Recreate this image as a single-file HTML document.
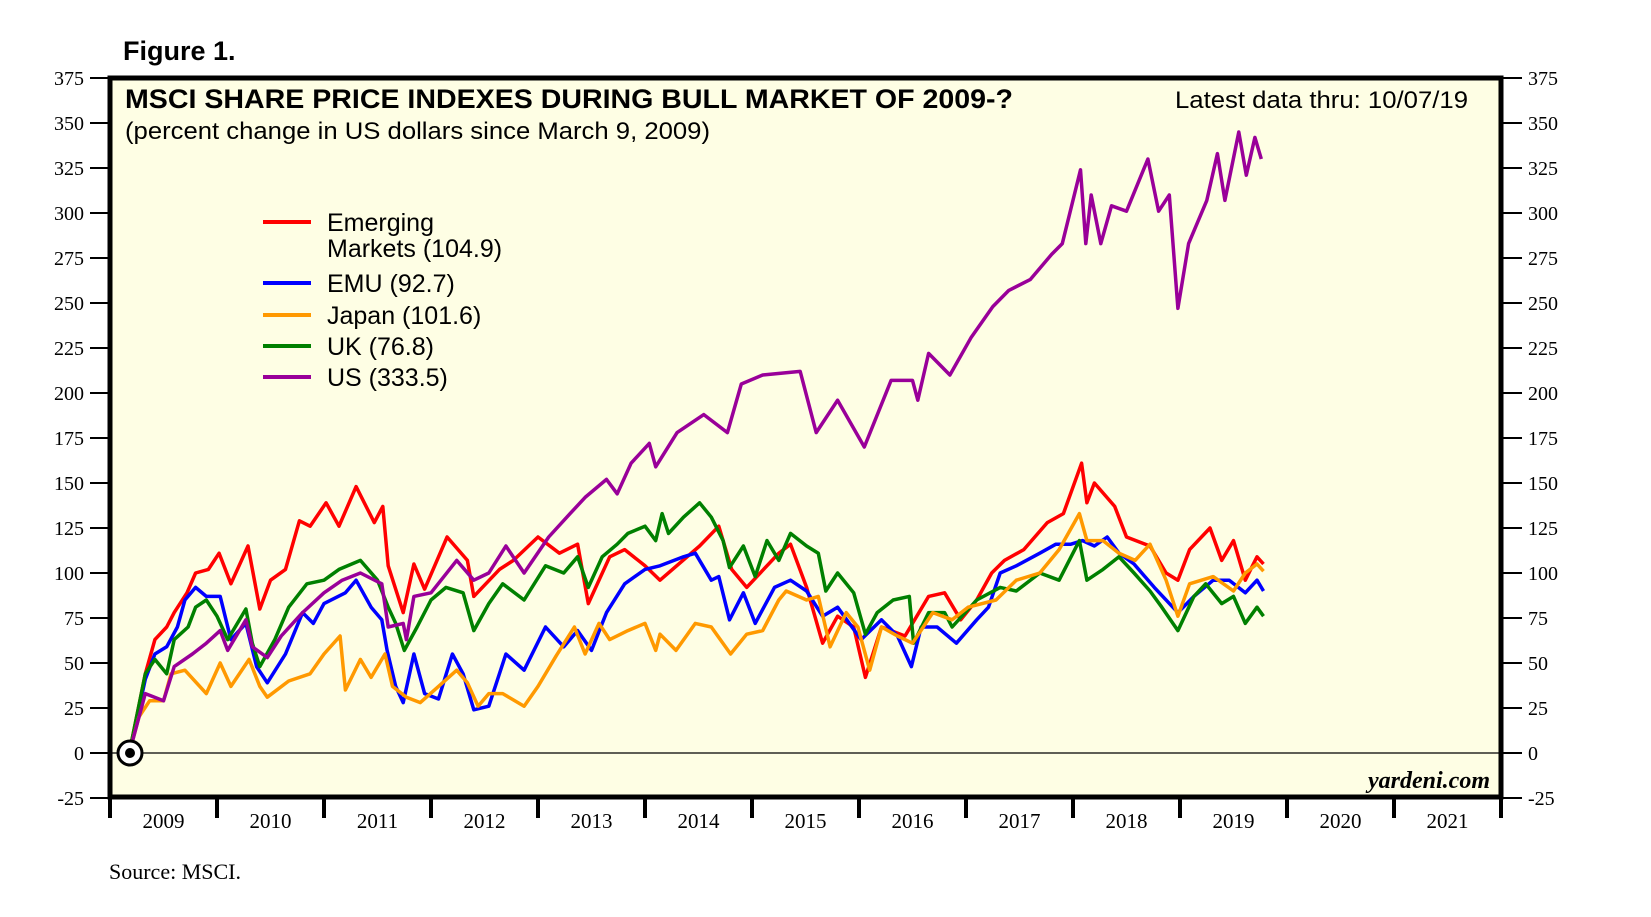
<!DOCTYPE html>
<html><head><meta charset="utf-8"><style>
body{margin:0;background:#fff;}
svg{display:block;}
</style></head><body>
<svg id="chart" width="1651" height="917" viewBox="0 0 1651 917" xmlns="http://www.w3.org/2000/svg">
<text x="123" y="60" font-family="Liberation Sans, sans-serif" font-weight="bold" font-size="27">Figure 1.</text>
<rect x="110" y="78" width="1391" height="719" fill="#fefee4"/>
<g id="axes"></g>
<g id="series"></g>
<rect x="110" y="78" width="1391" height="719" fill="none" stroke="#000" stroke-width="5"/>
<text x="125" y="108" font-family="Liberation Sans, sans-serif" font-weight="bold" font-size="27" textLength="888" lengthAdjust="spacingAndGlyphs">MSCI SHARE PRICE INDEXES DURING BULL MARKET OF 2009-?</text>
<text x="125" y="139" font-family="Liberation Sans, sans-serif" font-size="24" textLength="585" lengthAdjust="spacingAndGlyphs">(percent change in US dollars since March 9, 2009)</text>
<text x="1468" y="108" text-anchor="end" font-family="Liberation Sans, sans-serif" font-size="24" textLength="293" lengthAdjust="spacingAndGlyphs">Latest data thru: 10/07/19</text>
<text x="1490" y="788" text-anchor="end" font-family="Liberation Serif, serif" font-style="italic" font-weight="bold" font-size="24">yardeni.com</text>
<text x="109" y="879" font-family="Liberation Serif, serif" font-size="22">Source: MSCI.</text>
<g id="legend" font-family="Liberation Sans, sans-serif" font-size="25">
 <g><line x1="263" y1="222" x2="311" y2="222" stroke="#ff0000" stroke-width="4"/><text x="327" y="231">Emerging</text><text x="327" y="257">Markets (104.9)</text></g>
 <g><line x1="263" y1="283" x2="311" y2="283" stroke="#0000ff" stroke-width="4"/><text x="327" y="292">EMU (92.7)</text></g>
 <g><line x1="263" y1="315" x2="311" y2="315" stroke="#ff9900" stroke-width="4"/><text x="327" y="324">Japan (101.6)</text></g>
 <g><line x1="263" y1="346" x2="311" y2="346" stroke="#008000" stroke-width="4"/><text x="327" y="355">UK (76.8)</text></g>
 <g><line x1="263" y1="377" x2="311" y2="377" stroke="#990099" stroke-width="4"/><text x="327" y="386">US (333.5)</text></g>
</g>
<g><circle cx="130" cy="753" r="12" fill="#fff" stroke="#000" stroke-width="3"/><circle cx="130" cy="753" r="5" fill="#000"/></g>
</svg>
<script>
const yTicks = [-25,0,25,50,75,100,125,150,175,200,225,250,275,300,325,350,375];
const years = [2009,2010,2011,2012,2013,2014,2015,2016,2017,2018,2019,2020,2021];

const emDates = [2009.18,2009.33,2009.42,2009.53,2009.6,2009.72,2009.8,2009.92,2010.02,2010.13,2010.29,2010.4,2010.5,2010.64,2010.77,2010.87,2011.02,2011.14,2011.3,2011.47,2011.55,2011.6,2011.74,2011.84,2011.94,2012.15,2012.34,2012.4,2012.64,2012.77,2013.0,2013.2,2013.37,2013.47,2013.67,2013.81,2014.0,2014.14,2014.51,2014.69,2014.81,2014.95,2015.25,2015.36,2015.51,2015.66,2015.8,2015.95,2016.06,2016.21,2016.43,2016.65,2016.8,2016.95,2017.1,2017.24,2017.36,2017.54,2017.76,2017.91,2018.08,2018.13,2018.2,2018.39,2018.5,2018.72,2018.87,2018.98,2019.09,2019.28,2019.39,2019.5,2019.61,2019.72,2019.78];
const emVals = [0,44,63,70,78,89,100,102,111,94,115,80,96,102,129,126,139,126,148,128,137,104,78,105,91,120,107,87,102,107,120,111,116,83,109,113,104,96,115,126,102,92,111,116,92,61,76,70,42,70,65,87,89,74,85,100,107,113,128,133,161,139,150,137,120,115,100,96,113,125,107,118,96,109,105];

const emuDates = [2009.18,2009.33,2009.42,2009.53,2009.63,2009.7,2009.8,2009.9,2010.03,2010.13,2010.27,2010.37,2010.47,2010.64,2010.8,2010.9,2011.0,2011.2,2011.3,2011.44,2011.54,2011.59,2011.67,2011.74,2011.84,2011.94,2012.07,2012.2,2012.3,2012.4,2012.54,2012.7,2012.87,2013.07,2013.24,2013.37,2013.5,2013.64,2013.81,2014.0,2014.14,2014.36,2014.47,2014.62,2014.69,2014.79,2014.92,2015.03,2015.21,2015.36,2015.51,2015.66,2015.8,2016.02,2016.21,2016.36,2016.49,2016.58,2016.73,2016.91,2017.1,2017.21,2017.32,2017.47,2017.69,2017.84,2017.98,2018.09,2018.2,2018.32,2018.43,2018.57,2018.76,2018.98,2019.13,2019.31,2019.46,2019.61,2019.72,2019.78];
const emuVals = [0,41,55,59,70,85,92,87,87,63,72,48,39,55,78,72,83,89,96,81,74,57,37,28,55,33,30,55,44,24,26,55,46,70,59,68,57,78,94,102,104,109,111,96,98,74,89,72,92,96,90,76,81,63,74,65,48,70,70,61,74,81,100,104,111,116,116,118,115,120,111,105,92,78,87,96,96,89,96,90];

const ukDates = [2009.18,2009.33,2009.42,2009.53,2009.6,2009.73,2009.8,2009.9,2010.0,2010.1,2010.27,2010.33,2010.4,2010.54,2010.67,2010.84,2011.0,2011.14,2011.34,2011.5,2011.6,2011.67,2011.75,2011.87,2012.0,2012.14,2012.3,2012.4,2012.54,2012.67,2012.87,2013.07,2013.24,2013.37,2013.47,2013.6,2013.74,2013.84,2014.0,2014.1,2014.16,2014.22,2014.36,2014.51,2014.62,2014.73,2014.79,2014.92,2015.03,2015.14,2015.25,2015.36,2015.51,2015.62,2015.69,2015.8,2015.95,2016.06,2016.17,2016.32,2016.47,2016.51,2016.65,2016.8,2016.87,2017.1,2017.32,2017.47,2017.69,2017.87,2018.06,2018.13,2018.28,2018.43,2018.57,2018.72,2018.83,2018.98,2019.13,2019.24,2019.39,2019.5,2019.61,2019.72,2019.78];
const ukVals = [0,44,52,44,63,70,81,85,76,63,80,61,48,63,81,94,96,102,107,96,81,72,57,70,85,92,89,68,83,94,85,104,100,109,92,109,116,122,126,118,133,122,131,139,131,118,103,115,98,118,107,122,115,111,90,100,89,66,78,85,87,61,78,78,70,85,92,90,100,96,118,96,102,109,100,90,81,68,87,94,83,87,72,81,76];

const jpDates = [2009.18,2009.27,2009.37,2009.5,2009.57,2009.7,2009.9,2010.03,2010.13,2010.3,2010.4,2010.47,2010.67,2010.87,2011.0,2011.15,2011.2,2011.34,2011.44,2011.57,2011.64,2011.77,2011.9,2012.07,2012.24,2012.34,2012.44,2012.54,2012.67,2012.87,2013.0,2013.17,2013.34,2013.44,2013.57,2013.67,2013.84,2014.0,2014.1,2014.14,2014.29,2014.47,2014.62,2014.8,2014.95,2015.1,2015.25,2015.32,2015.51,2015.62,2015.73,2015.88,2015.99,2016.1,2016.21,2016.36,2016.5,2016.69,2016.87,2017.02,2017.28,2017.47,2017.69,2017.87,2018.06,2018.13,2018.28,2018.43,2018.58,2018.72,2018.87,2018.98,2019.09,2019.31,2019.5,2019.61,2019.72,2019.78];
const jpVals = [0,20,29,29,44,46,33,50,37,52,37,31,40,44,55,65,35,52,42,55,37,31,28,37,46,39,26,33,33,26,37,54,70,55,72,63,68,72,57,66,57,72,70,55,66,68,85,90,85,87,59,78,70,46,70,65,61,78,74,81,85,96,100,113,133,118,118,111,107,116,96,76,94,98,90,100,105,101];

const usDates = [2009.18,2009.33,2009.5,2009.6,2009.77,2009.9,2010.03,2010.1,2010.27,2010.33,2010.47,2010.6,2010.8,2011.0,2011.17,2011.34,2011.54,2011.6,2011.74,2011.77,2011.84,2012.0,2012.24,2012.4,2012.54,2012.7,2012.87,2013.1,2013.3,2013.44,2013.64,2013.74,2013.87,2014.04,2014.1,2014.3,2014.55,2014.77,2014.9,2015.1,2015.45,2015.6,2015.8,2016.05,2016.3,2016.5,2016.55,2016.65,2016.85,2017.05,2017.25,2017.4,2017.6,2017.8,2017.9,2018.07,2018.12,2018.17,2018.26,2018.36,2018.5,2018.7,2018.8,2018.9,2018.98,2019.08,2019.25,2019.35,2019.42,2019.55,2019.62,2019.7,2019.76];
const usVals = [0,33,29,48,55,61,68,57,74,59,53,65,78,89,96,100,94,70,72,63,87,89,107,96,100,115,100,120,133,142,152,144,161,172,159,178,188,178,205,210,212,178,196,170,207,207,196,222,210,231,248,257,263,277,283,324,283,310,283,304,301,330,301,310,247,283,307,333,307,345,321,342,330];

const X0 = 110, YW = 107, Y0 = 753, PX = 1.8;
function xs(yr){ return X0 + (yr - 2009) * YW; }
function ys(v){ return Y0 - v * PX; }
const NS = 'http://www.w3.org/2000/svg';
function mk(tag, attrs){ const e = document.createElementNS(NS, tag); for (const k in attrs) e.setAttribute(k, attrs[k]); return e; }

const axes = document.getElementById('axes');
const zl = mk('line', {x1: X0, x2: X0 + 13*YW, y1: ys(0), y2: ys(0), stroke: '#000', 'stroke-width': 1.2});


axes.appendChild(zl);
yTicks.forEach(v => {
  const y = ys(v);
  const l = mk('line', {x1: 90, x2: 110, y1: y, y2: y, stroke: '#000', 'stroke-width': 2});
  
  
  axes.appendChild(l);
  const r = mk('line', {x1: 1501, x2: 1522, y1: y, y2: y, stroke: '#000', 'stroke-width': 2});
  
  
  axes.appendChild(r);
  const t = mk('text', {x: 84, y: y + 7, 'text-anchor': 'end', 'font-family': 'Liberation Serif, serif', 'font-size': 20});
  t.textContent = v;
  
  
  axes.appendChild(t);
  const t2 = mk('text', {x: 1528, y: y + 7, 'font-family': 'Liberation Serif, serif', 'font-size': 20});
  t2.textContent = v;
  
  
  axes.appendChild(t2);
});
years.concat([2022]).forEach(yr => {
  const x = xs(yr);
  const l = mk('line', {x1: x, x2: x, y1: 797, y2: 818, stroke: '#000', 'stroke-width': 4});
  
  
  axes.appendChild(l);
});
years.forEach(yr => {
  const t = mk('text', {x: xs(yr + 0.5), y: 828, 'text-anchor': 'middle', 'font-family': 'Liberation Serif, serif', 'font-size': 21});
  t.textContent = yr;
  
  
  axes.appendChild(t);
});

const seriesG = document.getElementById('series');
function draw(dates, vals, color, name){
  const d = dates.map((t, i) => (i ? 'L' : 'M') + xs(t).toFixed(1) + ' ' + ys(vals[i]).toFixed(1)).join(' ');
  const p = mk('path', {d: d, fill: 'none', stroke: color, 'stroke-width': 3.5, 'stroke-linejoin': 'round'});
  
  
  seriesG.appendChild(p);
}
draw(emDates, emVals, '#ff0000', 'emerging-markets-line');
draw(emuDates, emuVals, '#0000ff', 'emu-line');
draw(ukDates, ukVals, '#008000', 'uk-line');
draw(jpDates, jpVals, '#ff9900', 'japan-line');
draw(usDates, usVals, '#990099', 'us-line');
</script>
</body></html>
